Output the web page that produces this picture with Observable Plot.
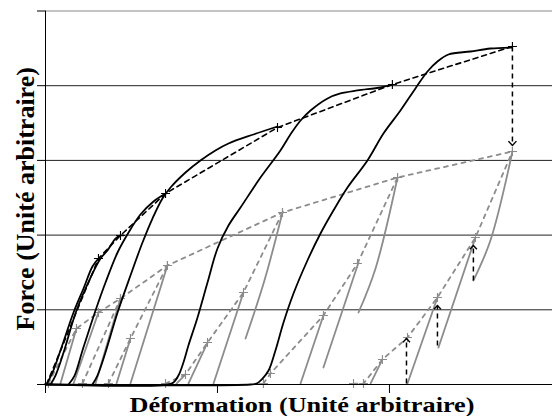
<!DOCTYPE html>
<html><head><meta charset="utf-8">
<script src="https://cdn.jsdelivr.net/npm/d3@7"></script>
<script src="https://cdn.jsdelivr.net/npm/@observablehq/plot@0.6"></script>
<style>body{margin:0;background:#fff}</style>
</head><body><div id="chart"></div>
<script>
// Axis ticks (arbitrary units)
const xTicks = [0, 1, 2];
const yTicks = [0, 1, 2, 3, 4, 5];
const xLabel = "Déformation (Unité arbitraire)";
const yLabel = "Force (Unité arbitraire)";

// Black loading curves [deformation, force]
const load1 = [[0.006,0],[0.041,0.161],[0.087,0.455],[0.163,0.964],[0.221,1.285],[0.273,1.580],[0.308,1.687]];
const load2 = [[0.029,0],[0.058,0.120],[0.105,0.428],[0.180,0.991],[0.262,1.432],[0.320,1.687],[0.360,1.794],[0.407,1.954],[0.436,1.995],[0.453,1.995]];
const load3 = [[0.134,0],[0.169,0.120],[0.215,0.455],[0.291,0.991],[0.349,1.365],[0.419,1.767],[0.483,2.035],[0.552,2.276],[0.628,2.450],[0.698,2.557]];
const load4 = [[0.273,0],[0.302,0.120],[0.343,0.388],[0.419,0.964],[0.494,1.459],[0.564,1.901],[0.622,2.222],[0.680,2.490],[0.727,2.637],[0.814,2.838],[0.901,2.999],[0.988,3.133],[1.064,3.226],[1.209,3.347],[1.349,3.454]];
const load5 = [[0,0],[0.715,0],[0.744,0.027],[0.773,0.120],[0.802,0.295],[0.831,0.522],[0.884,0.897],[0.942,1.365],[1.000,1.821],[1.064,2.128],[1.134,2.369],[1.250,2.771],[1.366,3.133],[1.424,3.347],[1.483,3.534],[1.541,3.668],[1.640,3.829],[1.715,3.896],[1.814,3.936],[1.948,3.976],[2.017,4.016]];
const load6 = [[0,0],[1.192,0],[1.227,0.013],[1.262,0.080],[1.297,0.187],[1.337,0.455],[1.384,0.830],[1.442,1.218],[1.523,1.660],[1.599,2.021],[1.674,2.329],[1.756,2.637],[1.872,2.999],[1.965,3.360],[2.064,3.668],[2.151,3.963],[2.221,4.190],[2.279,4.324],[2.343,4.418],[2.471,4.458],[2.587,4.498],[2.712,4.511]];

// Black dashed envelope through loading peaks
const peakEnvelope = [[0.006,0],[0.308,1.687],[0.436,1.995],[0.698,2.557],[1.349,3.440],[2.017,4.016],[2.715,4.525]];

// Grey dashed envelope through reloading peaks
const reloadEnvelope = [[0.308,0.964],[0.436,1.151],[0.709,1.593],[1.378,2.303],[2.047,2.771],[2.715,3.119]];

// Grey dashed chains (steep branches)
const chain1 = [[0.017,0.013],[0.180,0.750],[0.308,0.964]];
const chain2 = [[0.215,0.013],[0.436,1.151]];
const chain3 = [[0.366,0.013],[0.494,0.616],[0.709,1.593]];
const chain4 = [[0.698,0.013],[0.814,0.134],[0.942,0.562],[1.151,1.232],[1.378,2.303]];
const chain5 = [[1.267,0.013],[1.308,0.147],[1.616,0.924],[1.814,1.620],[2.047,2.771]];
const chain6 = [[1.791,0.013],[1.849,0.013],[1.959,0.335],[2.105,0.629],[2.279,1.165],[2.500,1.968],[2.715,3.119]];

// Grey solid reloading segments
const reloads = [
  [[0.087,0.013],[0.180,0.750]],
  [[0.163,0.013],[0.308,0.964]],
  [[0.291,0.013],[0.436,1.151]],
  [[0.413,0.013],[0.494,0.616]],
  [[0.494,0.013],[0.709,1.593]],
  [[0.762,0.013],[0.814,0.134]],
  [[0.831,0.013],[0.942,0.562]],
  [[0.977,0.013],[1.151,1.232]],
  [[1.163,0.616],[1.273,1.392],[1.378,2.303]],
  [[1.483,0.013],[1.616,0.924]],
  [[1.616,0.228],[1.820,1.633]],
  [[1.820,0.964],[1.919,1.554],[2.047,2.771]],
  [[1.890,0.013],[1.959,0.335]],
  [[2.105,0.013],[2.279,1.165]],
  [[2.285,0.495],[2.500,1.968]],
  [[2.488,1.392],[2.587,1.928],[2.715,3.119]]
];

// Black dashed arrows [x1, y1, x2, y2]
const arrows = [
  [2.715,4.525,2.715,3.199],
  [2.099,0.013,2.099,0.616],
  [2.279,0.522,2.279,1.058],
  [2.488,1.392,2.488,1.861]
];

const rows = (arr, id) => arr.map(([x, y]) => ({x, y, id}));
const loadRows = [load1, load2, load3, load4, load5, load6].flatMap((a, i) => rows(a, "L" + i));
const chainRows = [chain1, chain2, chain3, chain4, chain5, chain6].flatMap((a, i) => rows(a, "C" + i));
const reloadRows = reloads.flatMap((a, i) => rows(a, "R" + i));
const envRows = rows(peakEnvelope, "E");
const genvRows = rows(reloadEnvelope, "G");
const blackMarks = rows(peakEnvelope.slice(1), "m");
const greyMarks = rows([...chain1, ...chain2, ...chain3, ...chain4, ...chain5, ...chain6, ...reloadEnvelope], "g");
const arrowRows = arrows.map(([x1, y1, x2, y2]) => ({x1, y1, x2, y2, up: y2 > y1}));

// open chevron arrowheads, tip at the data point
const chevronUp = {draw(ctx, size) { const s = Math.sqrt(size / Math.PI); ctx.moveTo(-s, s * 1.1); ctx.lineTo(0, 0); ctx.lineTo(s, s * 1.1); }};
const chevronDown = {draw(ctx, size) { const s = Math.sqrt(size / Math.PI); ctx.moveTo(-s, -s * 1.1); ctx.lineTo(0, 0); ctx.lineTo(s, -s * 1.1); }};

const grey = "#8c8c8c";
const chart = Plot.plot({
  width: 552, height: 416,
  marginLeft: 45, marginRight: 0, marginTop: 10.5, marginBottom: 32,
  x: {domain: [0, 2.948]},
  y: {domain: [0, 5]},
  style: {background: "#fff", fontFamily: "Liberation Serif"},
  marks: [
    Plot.ruleY([1, 2, 3, 4], {stroke: "#222", strokeWidth: 1}),
    Plot.ruleY([5], {stroke: "#888", strokeWidth: 1}),
    Plot.axisY({ticks: yTicks, tickSize: 8, tickFormat: () => "", label: null}),
    Plot.axisX({ticks: xTicks, tickSize: 9, tickFormat: () => "", label: null}),
    Plot.line(genvRows, {x: "x", y: "y", z: "id", stroke: grey, strokeWidth: 1.8, strokeDasharray: "4,5"}),
    Plot.line(chainRows, {x: "x", y: "y", z: "id", stroke: grey, strokeWidth: 1.8, strokeDasharray: "4,5"}),
    Plot.line(reloadRows, {x: "x", y: "y", z: "id", stroke: grey, strokeWidth: 1.8, curve: "catmull-rom"}),
    Plot.dot(greyMarks, {x: "x", y: "y", symbol: "plus", r: 3, stroke: grey, strokeWidth: 1.1}),
    Plot.ruleX([0], {stroke: "#000", strokeWidth: 1}),
    Plot.ruleY([0], {stroke: "#000", strokeWidth: 1}),
    Plot.line(loadRows, {x: "x", y: "y", z: "id", stroke: "#000", strokeWidth: 1.8, curve: "catmull-rom"}),
    Plot.line(envRows, {x: "x", y: "y", z: "id", stroke: "#000", strokeWidth: 1.6, strokeDasharray: "5,4"}),
    Plot.dot(blackMarks, {x: "x", y: "y", symbol: "plus", r: 3, stroke: "#000", strokeWidth: 1.1}),
    Plot.link(arrowRows, {x1: "x1", y1: "y1", x2: "x2", y2: "y2", stroke: "#000", strokeWidth: 1.5, strokeDasharray: "5,4"}),
    Plot.dot(arrowRows.filter(d => d.up), {x: "x2", y: "y2", symbol: chevronUp, r: 3.5, fill: "none", stroke: "#000", strokeWidth: 1.4}),
    Plot.dot(arrowRows.filter(d => !d.up), {x: "x2", y: "y2", symbol: chevronDown, r: 4, fill: "none", stroke: "#000", strokeWidth: 1.4}),
    Plot.text([xLabel], {frameAnchor: "bottom", text: d => d, dx: 3, dy: 27, lineAnchor: "bottom", textAnchor: "middle", fontSize: 21, fontWeight: "bold", fontFamily: "Liberation Serif", fill: "#000"}),
    Plot.text([yLabel], {frameAnchor: "left", text: d => d, rotate: -90, dx: -12, dy: 1, lineAnchor: "bottom", textAnchor: "middle", fontSize: 26, fontWeight: "bold", fontFamily: "Liberation Serif", fill: "#000"})
  ]
});
chart.querySelectorAll("text").forEach(t => {
  if (t.textContent === xLabel) {
    t.setAttribute("textLength", 345);
    t.setAttribute("lengthAdjust", "spacingAndGlyphs");
  }
});
document.getElementById("chart").appendChild(chart);
</script>
</body></html>
